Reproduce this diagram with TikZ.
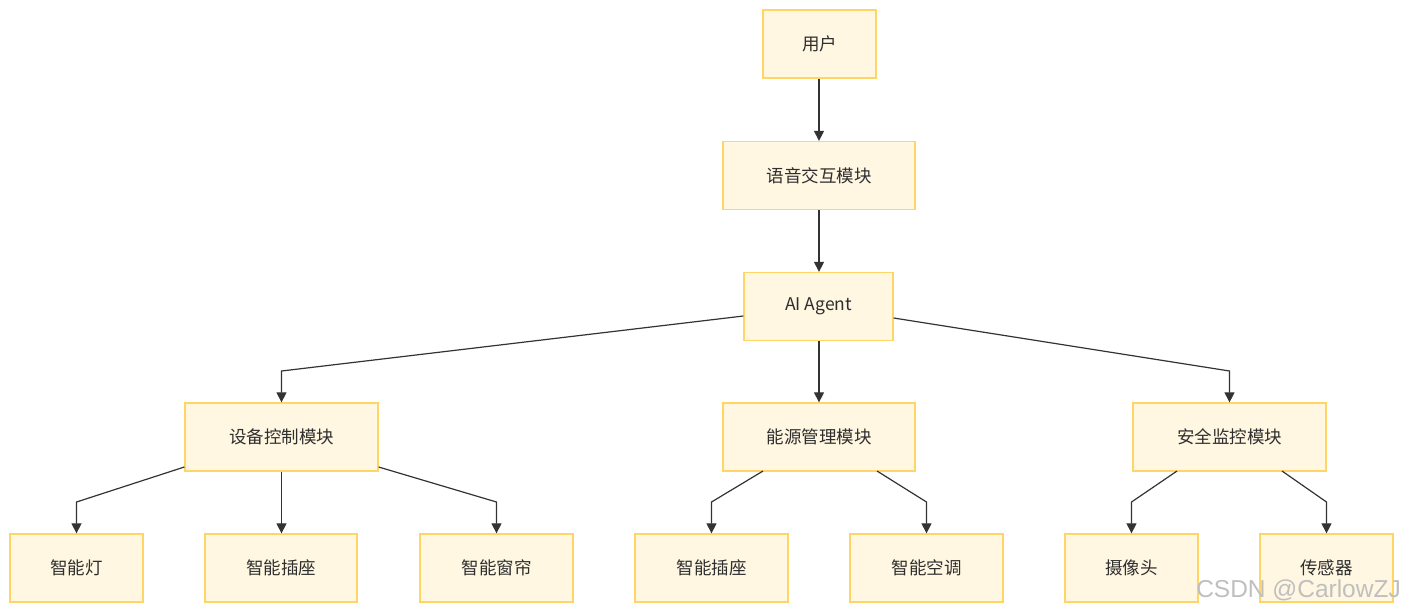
\documentclass[tikz,border=0pt]{standalone}
\usepackage{fontspec}
\setmainfont{Noto Sans CJK SC}
\newfontfamily\wmfont{Liberation Sans}
\usetikzlibrary{arrows.meta}
\definecolor{boxfill}{HTML}{FFF7E2}
\definecolor{boxline}{HTML}{FFD666}
\definecolor{edgecol}{HTML}{333333}
\definecolor{txtcol}{HTML}{2E2E2E}
\tikzset{
  box/.style={draw=boxline, fill=boxfill, line width=1.3pt, text=txtcol, font=\fontsize{17.5}{20}\selectfont, minimum height=68pt, inner sep=0pt},
  conn/.style={draw=edgecol, line width=1.2pt, -{Triangle[length=10pt,width=10pt]}}
}
\begin{document}
\begin{tikzpicture}[x=1pt,y=-1pt]
\useasboundingbox (0,0) rectangle (1404,614);
\node[box, minimum width=113pt] (user) at (819.5,44) {用户};
\node[box, minimum width=192pt] (voice) at (819,175.5) {语音交互模块};
\node[box, minimum width=149pt] (ai) at (818.5,306.5) {AI Agent};
\node[box, minimum width=193pt] (dev) at (281.5,437) {设备控制模块};
\node[box, minimum width=192pt] (eng) at (819,437) {能源管理模块};
\node[box, minimum width=193pt] (sec) at (1229.5,437) {安全监控模块};
\node[box, minimum width=133pt] (lamp) at (76.5,568) {智能灯};
\node[box, minimum width=152pt] (plug1) at (281,568) {智能插座};
\node[box, minimum width=153pt] (curt) at (496.5,568) {智能窗帘};
\node[box, minimum width=153pt] (plug2) at (711.5,568) {智能插座};
\node[box, minimum width=153pt] (ac) at (926.5,568) {智能空调};
\node[box, minimum width=133pt] (cam) at (1131.5,568) {摄像头};
\node[box, minimum width=133pt] (sens) at (1326.5,568) {传感器};

\coordinate (k1) at (281.5,371);
\coordinate (k2) at (1229.5,371);
\coordinate (k3) at (76.5,502);
\coordinate (k4) at (496.5,502);
\coordinate (k5) at (711.5,502);
\coordinate (k6) at (926.5,502);
\coordinate (k7) at (1131.5,502);
\coordinate (k8) at (1326.5,502);

\draw[conn] (user.south -| voice.north) -- (voice.north);
\draw[conn] (voice.south) -- (ai.north -| voice.south);
\draw[conn] (ai.west |- 0,316) -- (k1) -- (dev.north);
\draw[conn] (ai.south -| eng.north) -- (eng.north);
\draw[conn] (ai.east |- 0,318) -- (k2) -- (sec.north);
\draw[conn] (dev.west |- 0,467) -- (k3) -- (lamp.north);
\draw[conn] (dev.south) -- (plug1.north -| dev.south);
\draw[conn] (dev.east |- 0,467) -- (k4) -- (curt.north);
\draw[conn] (763,471) -- (k5) -- (plug2.north);
\draw[conn] (877,471) -- (k6) -- (ac.north);
\draw[conn] (1177,471) -- (k7) -- (cam.north);
\draw[conn] (1282,471) -- (k8) -- (sens.north);

\node[anchor=base east, text=black!25, font=\wmfont\fontsize{24.5}{28}\selectfont, inner sep=0pt] (wm) at (1401,597) {CSDN @CarlowZJ};
\end{tikzpicture}
\end{document}
